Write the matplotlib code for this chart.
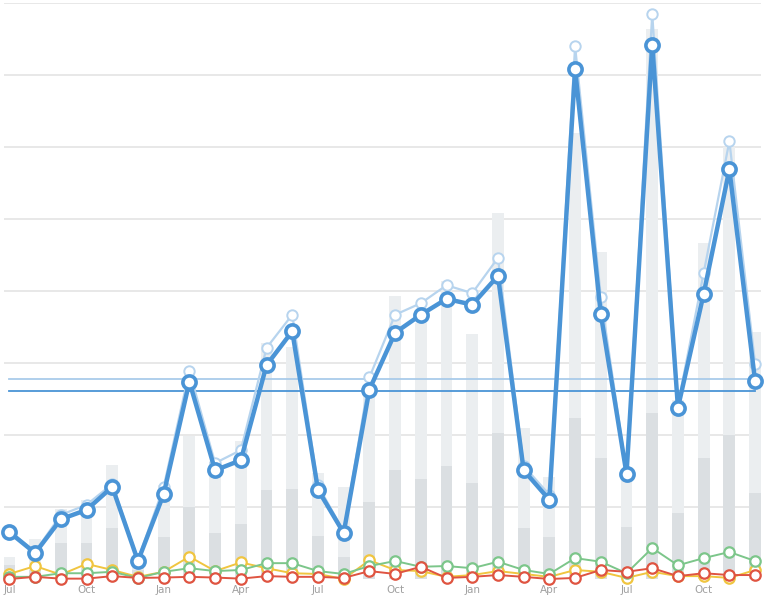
import matplotlib
matplotlib.use("Agg")
import matplotlib.pyplot as plt
import numpy as np

months = ["Jul", "Aug", "Sep", "Oct", "Nov", "Dec", "Jan", "Feb", "Mar", "Apr", "May", "Jun",
          "Jul", "Aug", "Sep", "Oct", "Nov", "Dec", "Jan", "Feb", "Mar", "Apr", "May", "Jun",
          "Jul", "Aug", "Sep", "Oct", "Nov", "Dec"]

bar_total = [3.0, 5.5, 9.7, 11.0, 15.8, 1.8, 13.1, 19.9, 16.3, 19.2, 32.8, 32.2, 14.7, 12.8, 26.9,
             39.3, 35.6, 41.4, 34.0, 50.8, 21.0, 14.2, 61.9, 45.4, 15.1, 76.4, 24.9, 46.7, 60.0, 34.3]
bar_part = [1.9, 1.2, 5.0, 5.0, 7.1, 1.2, 5.8, 10.0, 6.4, 7.6, 12.4, 12.5, 6.0, 3.1, 10.7,
            15.1, 13.9, 15.7, 13.3, 20.3, 7.1, 5.8, 22.4, 16.8, 7.2, 23.1, 9.2, 16.8, 20.0, 11.9]

main_series = [6.5, 3.6, 8.3, 9.6, 12.8, 2.5, 11.8, 27.4, 15.1, 16.5, 29.7, 34.4, 12.4, 6.4, 26.3,
               34.2, 36.7, 38.9, 38.1, 42.1, 15.1, 11.0, 70.8, 36.8, 14.6, 74.2, 23.8, 39.6, 56.9, 27.5]
prev_series = [6.7, 3.8, 8.9, 10.3, 13.2, 2.7, 12.8, 28.9, 16.1, 17.9, 32.1, 36.7, 13.0, 6.6, 28.0,
               36.7, 38.3, 40.8, 39.7, 44.6, 15.7, 11.7, 74.0, 39.2, 14.9, 78.5, 24.2, 42.5, 60.8, 29.9]

yellow_series = [0.7, 1.8, 0.6, 2.1, 1.25, 0.3, 1.0, 3.1, 1.1, 2.3, 1.5, 0.8, 0.7, 0.0, 2.6,
                 1.25, 1.1, 0.3, 0.55, 1.1, 0.7, 0.3, 1.25, 1.0, 0.15, 1.0, 0.4, 0.4, 0.15, 1.25]
green_series = [0.3, 0.3, 0.8, 0.8, 1.0, 0.15, 1.0, 1.5, 1.1, 1.25, 2.2, 2.2, 1.1, 0.7, 1.8,
                2.5, 1.7, 1.8, 1.5, 2.4, 1.25, 0.7, 2.9, 2.4, 0.8, 4.3, 1.9, 2.9, 3.75, 2.5]
red_series = [0.0, 0.3, 0.05, 0.05, 0.4, 0.15, 0.2, 0.3, 0.2, 0.05, 0.4, 0.3, 0.3, 0.15, 1.1,
              0.7, 1.7, 0.15, 0.3, 0.55, 0.3, 0.0, 0.15, 1.25, 1.0, 1.5, 0.4, 0.8, 0.55, 0.55]

avg_prev = 27.8
avg_main = 26.1

x = np.arange(len(months))

fig = plt.figure(figsize=(7.68, 6.01), dpi=100)
ax = fig.add_axes([4/768, 22/601, 757/768, 576/601])

ax.set_xlim(-0.21, len(months) - 1 + 0.23)
ax.set_ylim(0, 80)

for gy in range(10, 90, 10):
    ax.axhline(gy, color="#e4e4e4", lw=1.2, zorder=0)

ax.bar(x, bar_total, width=0.46, color="#ebeef0", zorder=1)
ax.bar(x, bar_part, width=0.46, color="#dbdfe2", zorder=1.5)

ax.plot([0, x[-1] + 0.23], [avg_prev, avg_prev], color="#a9cbea", lw=1.3, zorder=2)
ax.plot([0, x[-1]], [avg_main, avg_main], color="#4a94d6", lw=1.3, zorder=2)

small_kw = dict(lw=1.4, marker="o", markersize=7.5, markerfacecolor="white",
                markeredgewidth=1.6, clip_on=False)
ax.plot(x, yellow_series, color="#f0c540", zorder=3, **small_kw)
ax.plot(x, green_series, color="#7cc68a", zorder=3.1, **small_kw)
ax.plot(x, red_series, color="#df5441", zorder=3.2, **small_kw)

ax.plot(x, prev_series, color="#b7d4ee", lw=1.6, marker="o", markersize=7.5,
        markerfacecolor="white", markeredgewidth=1.4, zorder=4, clip_on=False)
ax.plot(x, main_series, color="#4a94d6", lw=3.2, marker="o", markersize=9.5,
        markerfacecolor="white", markeredgewidth=2.6, zorder=5, clip_on=False)

tick_idx = [i for i, m in enumerate(months) if m in ("Jan", "Apr", "Jul", "Oct")]
ax.set_xticks(tick_idx)
ax.set_xticklabels([months[i] for i in tick_idx], color="#a0a0a0", fontsize=7.5)
ax.tick_params(axis="x", length=0, pad=4)
ax.set_yticks([])
for s in ax.spines.values():
    s.set_visible(False)

fig.savefig("out.png", dpi=100)
